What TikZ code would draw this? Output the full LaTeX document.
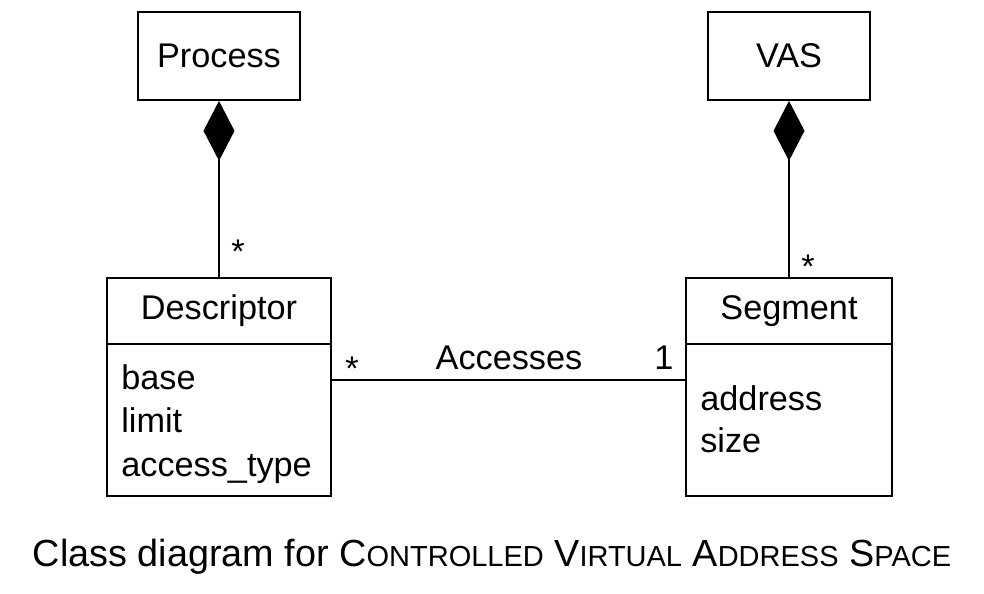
\documentclass[tikz,border=0pt]{standalone}
\usepackage{fontspec}
\setmainfont{Liberation Sans}
\usetikzlibrary{arrows.meta,positioning}

\newcommand{\umlfont}{\fontsize{19.5}{23}\selectfont}
\newcommand{\capsc}[2]{{\fontsize{21.5}{24}\selectfont #1}{\fontsize{16.5}{24}\selectfont #2}}

\tikzset{
  cls/.style={draw,line width=1pt,inner sep=0pt,font=\umlfont},
  lbl/.style={inner sep=0pt,font=\umlfont},
  attr/.style={lbl,anchor=base west},
  mult/.style={lbl,anchor=base},
  compose/.style={line width=1pt,-{Diamond[length=1.2cm,width=0.62cm]}},
  assoc/.style={line width=1pt}
}

\begin{document}
\begin{tikzpicture}[x=0.02cm,y=0.02cm]
  \useasboundingbox (0,0) rectangle (984,593);

  % whole classes
  \node[cls,minimum width=3.24cm,minimum height=1.76cm] (proc) at (219,537) {Process};
  \node[cls,minimum width=3.24cm,minimum height=1.76cm] (vas) at (789,537) {VAS};
  \node[cls,minimum width=4.48cm,minimum height=4.36cm] (desc) at (219,206) {};
  \node[cls,minimum width=4.12cm,minimum height=4.36cm] (seg) at (789,206) {};

  % name compartments
  \node[cls,minimum width=4.48cm,minimum height=1.32cm,anchor=north] (desctitle) at (desc.north) {Descriptor};
  \node[cls,minimum width=4.12cm,minimum height=1.32cm,anchor=north] (segtitle) at (seg.north) {Segment};

  % attributes
  \node[attr] (dbase) at (121,204) {base};
  \node[attr] (dlimit) at (121,161) {limit};
  \node[attr] (dtype) at (121,117) {access\_type};
  \node[attr] (saddr) at (700,183) {address};
  \node[attr] (ssize) at (700,141) {size};

  % composition
  \draw[compose] (desc.north) -- (proc.south);
  \draw[compose] (seg.north) -- (vas.south);
  \node[mult] (mproc) at (238,330) {*};
  \node[mult] (mvas) at (808,315) {*};

  % association
  \draw[assoc] (desc.east |- 0,213) -- (seg.west |- 0,213);
  \node[mult] (mdesc) at (352,213) {*};
  \node[mult] (acc) at (509,224) {Accesses};
  \node[mult] (mseg) at (664,224) {1};

  % caption
  \node[inner sep=0pt] (cap) at (492,36) {\fontsize{21.5}{24}\selectfont Class diagram for
    \capsc{C}{ONTROLLED} \capsc{V}{IRTUAL} \capsc{A}{DDRESS} \capsc{S}{PACE}};
\end{tikzpicture}
\end{document}
